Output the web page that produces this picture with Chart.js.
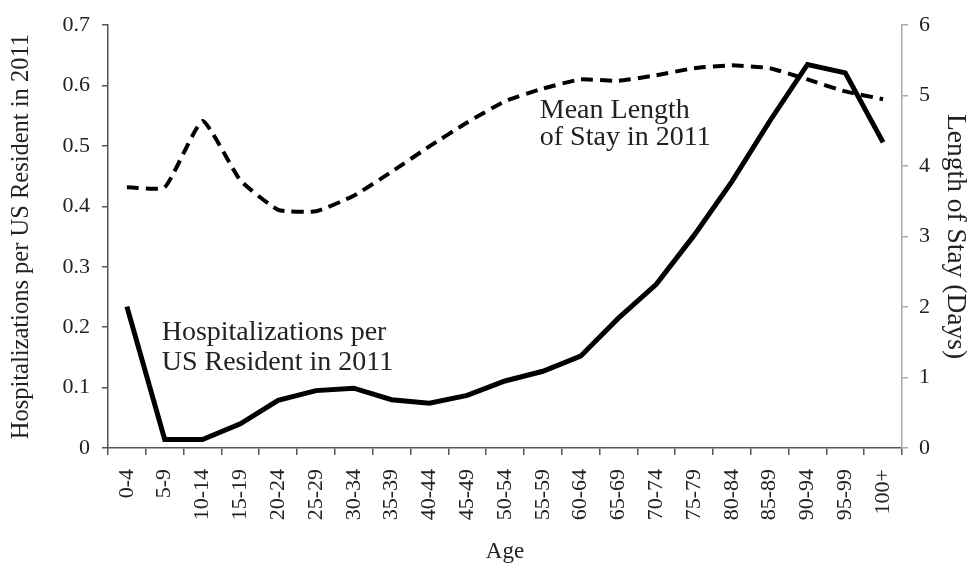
<!DOCTYPE html>
<html>
<head>
<meta charset="utf-8">
<script src="https://cdn.jsdelivr.net/npm/chart.js@4/dist/chart.umd.min.js"></script>
<style>
    body { margin: 0; background: #fff; }
    #wrap { width: 972px; height: 567px; }
</style>
</head>
<body>
<div id="wrap"><canvas id="chart" width="972" height="567"></canvas></div>
<script>
// Data
const ages = ['0-4', '5-9', '10-14', '15-19', '20-24', '25-29', '30-34', '35-39', '40-44', '45-49',
    '50-54', '55-59', '60-64', '65-69', '70-74', '75-79', '80-84', '85-89', '90-94', '95-99', '100+'];
const hospPerResident = [0.234, 0.014, 0.014, 0.040, 0.079, 0.095, 0.099, 0.080, 0.074, 0.087,
    0.111, 0.127, 0.152, 0.215, 0.271, 0.352, 0.441, 0.541, 0.635, 0.621, 0.506];
const meanStayDays = [3.70, 3.70, 4.64, 3.80, 3.38, 3.36, 3.58, 3.92, 4.28, 4.62,
    4.92, 5.10, 5.23, 5.21, 5.29, 5.39, 5.43, 5.39, 5.23, 5.06, 4.95];
const leftTicks = [0, 0.1, 0.2, 0.3, 0.4, 0.5, 0.6, 0.7];
const rightTicks = [0, 1, 2, 3, 4, 5, 6];

const FONT = "'Liberation Serif', 'DejaVu Serif', serif";
const TEXT = '#222';

// in-plot labels, placed in data coordinates (x index, left-axis value)
const notes = [
    { x: 0.92, y: 0.178, text: 'Hospitalizations per' },
    { x: 0.92, y: 0.129, text: 'US Resident in 2011' },
    { x: 10.92, y: 0.546, text: 'Mean Length' },
    { x: 10.92, y: 0.501, text: 'of Stay in 2011' }
];

const notesPlugin = {
    id: 'notes',
    afterDatasetsDraw(chart) {
        const ctx = chart.ctx;
        const sx = chart.scales.x, sy = chart.scales.y;
        ctx.save();
        ctx.font = `28px ${FONT}`;
        ctx.fillStyle = TEXT;
        ctx.textBaseline = 'alphabetic';
        notes.forEach(n => {
            ctx.fillText(n.text, sx.getPixelForValue(n.x), sy.getPixelForValue(n.y));
        });
        ctx.restore();
    }
};

new Chart(document.getElementById('chart').getContext('2d'), {
    type: 'line',
    data: {
        labels: ages,
        datasets: [{
            label: 'Mean Length of Stay in 2011',
            data: meanStayDays,
            yAxisID: 'y2',
            borderColor: '#000',
            borderWidth: 4,
            borderDash: [12, 7],
            pointRadius: 0,
            tension: 0.15,
            fill: false
        }, {
            label: 'Hospitalizations per US Resident in 2011',
            data: hospPerResident,
            yAxisID: 'y',
            borderColor: '#000',
            borderWidth: 5,
            pointRadius: 0,
            tension: 0,
            fill: false
        }]
    },
    options: {
        responsive: false,
        animation: false,
        layout: { padding: { top: 15, left: 0, right: 0, bottom: 0 } },
        plugins: {
            legend: { display: false },
            tooltip: { enabled: false }
        },
        scales: {
            x: {
                type: 'category',
                offset: true,
                grid: { offset: true, drawOnChartArea: false, tickLength: 7, color: '#555', lineWidth: 1.5 },
                border: { display: true, color: '#555', width: 1.5 },
                ticks: {
                    color: TEXT, font: { family: FONT, size: 22 },
                    minRotation: 90, maxRotation: 90, padding: 14, autoSkip: false
                },
                title: {
                    display: true, text: 'Age', color: TEXT,
                    font: { family: FONT, size: 23 }, padding: { top: 0, bottom: 1 }
                },
                afterFit: s => { s.height = 119; }
            },
            y: {
                position: 'left',
                min: 0, max: 0.7,
                afterBuildTicks: s => { s.ticks = leftTicks.map(v => ({ value: v })); },
                grid: { drawOnChartArea: false, tickLength: 6, color: '#555', lineWidth: 1.5 },
                border: { display: true, color: '#555', width: 1.5 },
                ticks: {
                    color: TEXT, font: { family: FONT, size: 22 }, padding: 12,
                    callback: v => v === 0 ? '0' : v.toFixed(1)
                },
                title: {
                    display: true, text: 'Hospitalizations per US Resident in 2011', color: TEXT,
                    font: { family: FONT, size: 24.5 }, padding: { top: 7, bottom: 0 }
                },
                afterFit: s => { s.width = 108; }
            },
            y2: {
                position: 'right',
                min: 0, max: 6,
                afterBuildTicks: s => { s.ticks = rightTicks.map(v => ({ value: v })); },
                grid: { drawOnChartArea: false, tickLength: 6, color: '#aaa', lineWidth: 1.5 },
                border: { display: true, color: '#aaa', width: 1.5 },
                ticks: { color: TEXT, font: { family: FONT, size: 22 }, padding: 11 },
                title: {
                    display: true, text: 'Length of Stay (Days)', color: TEXT,
                    font: { family: FONT, size: 27.5 }, padding: { top: 0, bottom: 0 }
                },
                afterFit: s => { s.width = 70; }
            }
        }
    },
    plugins: [notesPlugin]
});
</script>
</body>
</html>
